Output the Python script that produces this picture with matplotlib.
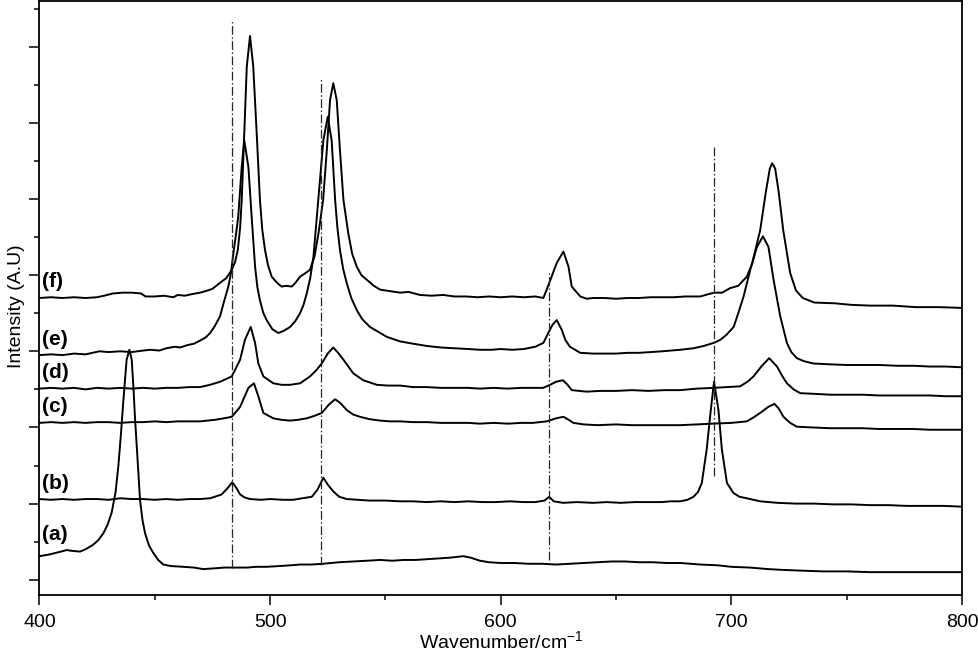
import numpy as np
import matplotlib
matplotlib.use('Agg')
import matplotlib.pyplot as plt
from matplotlib.ticker import MultipleLocator, NullFormatter

plt.rcParams['font.family'] = ['Liberation Sans', 'DejaVu Sans']
plt.rcParams['mathtext.fontset'] = 'custom'
plt.rcParams['mathtext.rm'] = 'Liberation Sans'

# spectrum (a)
wn_a = [400, 404, 408, 411.8, 414, 417.6, 420, 423.3, 425.5, 427.7, 429.5, 431.3, 433, 434.2,
        435.3, 436.4, 437.8, 439, 440, 440.8, 441.4, 442.5, 443.6, 444.7, 445.8, 447.5, 449.4,
        451.5, 453.7, 457, 462.4, 467, 471, 476, 480, 484.1, 490, 494, 498.5, 504, 509, 513,
        518, 523, 530, 536, 542, 547.7, 553, 558, 563, 568, 573, 578, 581, 583.7, 587, 591,
        595, 600, 606, 612, 618, 624, 630, 636, 642, 648, 654, 660, 666, 672, 678, 686.5, 694,
        700, 708, 716, 722, 730, 740, 750, 760, 770, 780, 790, 800]
int_a = [0.31, 0.33, 0.36, 0.39, 0.38, 0.37, 0.40, 0.46, 0.52, 0.61, 0.72, 0.88, 1.15, 1.49,
         1.90, 2.36, 2.89, 3.02, 2.89, 2.50, 2.14, 1.60, 1.05, 0.78, 0.61, 0.45, 0.35,
         0.26, 0.20, 0.18, 0.17, 0.16, 0.14, 0.15, 0.16, 0.16, 0.16, 0.17, 0.17, 0.18, 0.19, 0.20,
         0.20, 0.21, 0.23, 0.24, 0.25, 0.26, 0.25, 0.26, 0.26, 0.27, 0.28, 0.29, 0.30, 0.31, 0.29, 0.25,
         0.23, 0.22, 0.22, 0.21, 0.21, 0.20, 0.21, 0.22, 0.23, 0.24, 0.24, 0.23, 0.23, 0.22, 0.22, 0.20, 0.19,
         0.17, 0.16, 0.14, 0.13, 0.12, 0.11, 0.11, 0.10, 0.10, 0.10, 0.10, 0.10]

# spectrum (b)
wn_b = [400, 405, 410, 415, 420, 425, 430, 435, 440, 445, 450, 455, 460, 465, 469.6, 474, 479,
        481.5, 483.6, 485.5, 487, 489, 491.3, 496, 500, 505.7, 510, 514, 518.1, 520.5, 523.1,
        525, 527.4, 530, 533.2, 538, 543, 550, 556.4, 562, 568, 574, 580, 586, 592, 598, 604,
        610, 615, 619, 621, 623, 627, 633, 640, 646, 652, 658, 664, 670, 673.6, 677.8, 681,
        683.6, 685.5, 687.2, 689.3, 691.1, 692.5, 694.4, 695.9, 698.1, 700.9, 703.5, 706.7,
        712.5, 720, 728, 736, 744, 752, 760, 768, 776, 784, 792, 800]
int_b = [1.06, 1.05, 1.06, 1.05, 1.06, 1.06, 1.05, 1.07, 1.06, 1.06, 1.05, 1.06, 1.05, 1.06, 1.06, 1.07, 1.12,
         1.20, 1.28, 1.20, 1.12, 1.08, 1.06, 1.05, 1.06, 1.05, 1.05, 1.07, 1.09, 1.18, 1.34,
         1.25, 1.16, 1.09, 1.06, 1.05, 1.04, 1.04, 1.03, 1.03, 1.02, 1.03, 1.02, 1.03, 1.02, 1.02, 1.03,
         1.02, 1.02, 1.04, 1.09, 1.03, 1.01, 1.02, 1.01, 1.02, 1.01, 1.02, 1.02, 1.02, 1.03, 1.03, 1.05,
         1.09, 1.15, 1.27, 1.71, 2.23, 2.60, 2.23, 1.71, 1.27, 1.14, 1.09, 1.07,
         1.03, 1.01, 1.00, 1.00, 0.99, 0.99, 0.98, 0.98, 0.97, 0.97, 0.97, 0.96]

# spectrum (c)
wn_c = [400, 405, 410, 415, 420, 425, 430, 435, 440, 445, 450, 455, 460, 465, 469.6, 476, 480,
        483.4, 487, 490.6, 493, 494.9, 497.1, 501.4, 505, 508.7, 512, 515.9, 519, 522.4, 525.5,
        528.2, 530.5, 533.2, 536, 539, 543, 547.7, 552, 556.4, 562, 568, 574, 580, 586, 591, 597,
        603, 609, 614, 620, 624, 627.2, 629.5, 631.5, 636, 642, 650, 657, 664, 671, 677.8, 685,
        692, 700, 706.7, 709.5, 712.5, 716, 718.7, 720.5, 722.6, 725.5, 728.4, 735, 743, 750.1,
        757, 764, 771, 779, 786, 793, 800]
int_c = [2.06, 2.07, 2.06, 2.07, 2.06, 2.07, 2.07, 2.06, 2.07, 2.07, 2.08, 2.07, 2.08, 2.08, 2.08, 2.10, 2.12,
         2.14, 2.27, 2.52, 2.58, 2.41, 2.19, 2.12, 2.10, 2.09, 2.10, 2.12, 2.15, 2.19, 2.30,
         2.37, 2.32, 2.23, 2.17, 2.14, 2.11, 2.09, 2.08, 2.08, 2.07, 2.07, 2.06, 2.06, 2.06, 2.05, 2.06,
         2.05, 2.06, 2.06, 2.08, 2.12, 2.14, 2.10, 2.06, 2.04, 2.03, 2.04, 2.03, 2.03, 2.03, 2.03, 2.04,
         2.05, 2.06, 2.08, 2.13, 2.19, 2.27, 2.31, 2.25, 2.14, 2.06, 2.01, 2.00, 1.99, 1.99,
         1.99, 1.98, 1.98, 1.98, 1.97, 1.97, 1.97]

# spectrum (d)
wn_d = [400, 405, 410, 415, 420, 425, 430, 435, 440, 445, 450, 455, 460, 465, 469.6, 474, 478.3,
        483.4, 487, 489.1, 491.6, 493.5, 494.9, 497.1, 501.4, 505, 508.7, 513, 517.3, 520, 522.4,
        525, 527.4, 529.5, 531.8, 536.1, 540.4, 546.3, 551, 556.4, 562, 568, 574, 580, 586, 591,
        597, 603, 609, 614, 618.4, 621.4, 624, 627, 629, 630.8, 637.3, 643, 650, 657, 664, 671,
        677.8, 685, 692.3, 698, 703.8, 707, 709.6, 713, 716.4, 719.8, 722, 724.1, 727, 729.9,
        737, 743, 750.1, 757, 764, 771, 779, 786, 793, 800]
int_d = [2.51, 2.52, 2.51, 2.52, 2.50, 2.52, 2.51, 2.52, 2.51, 2.52, 2.51, 2.52, 2.52, 2.53, 2.53, 2.56, 2.60,
         2.67, 2.89, 3.15, 3.32, 3.11, 2.84, 2.67, 2.58, 2.56, 2.56, 2.58, 2.67, 2.75, 2.84,
         2.97, 3.05, 2.98, 2.89, 2.71, 2.62, 2.56, 2.55, 2.55, 2.53, 2.53, 2.52, 2.52, 2.52, 2.51,
         2.52, 2.51, 2.52, 2.52, 2.52, 2.56, 2.60, 2.62, 2.56, 2.49, 2.47, 2.48, 2.48, 2.49, 2.48, 2.49,
         2.49, 2.51, 2.52, 2.53, 2.54, 2.60, 2.67, 2.80, 2.91, 2.80, 2.68, 2.58, 2.50, 2.45,
         2.44, 2.43, 2.43, 2.43, 2.42, 2.42, 2.42, 2.42, 2.41, 2.41]

# spectrum (e)
wn_e = [400, 405, 410, 415, 420, 426, 430, 435, 440, 445, 448, 452, 455, 458.8, 461, 464, 467,
        469.6, 472, 474, 476, 478.3, 480, 481.9, 483, 484.1, 485.2, 486.2, 487.7, 488.8, 490.6,
        492, 493.5, 494.5, 495.6, 497, 498.5, 501, 503.6, 506, 508.7, 511, 513, 514.5, 515.9,
        517.4, 518.8, 520.9, 523.1, 525, 526.7, 528.2, 529.2, 530.3, 531.7, 533.2, 535.2, 537.6,
        540, 543.3, 550.6, 556.4, 562, 568, 574, 580, 586, 591, 596, 600,
        605, 610, 615, 618.5, 620.6, 622.5, 624.3, 626.5, 628, 630, 634.5, 640, 645, 650, 655,
        660, 665, 670, 677.8, 683.6, 688, 692.3, 695.2, 698, 701, 703, 705.3, 708.2, 711.1,
        713.7, 716.1, 718.3, 721.2, 724.1, 726, 728.4, 731.5, 735.6, 742, 750.1, 757, 764.5,
        772, 779, 786, 793, 800]
int_e = [2.95, 2.96, 2.95, 2.97, 2.96, 3.00, 2.99, 3.00, 2.99, 3.01, 3.02, 3.01, 3.04, 3.06, 3.05, 3.08, 3.10,
         3.14, 3.18, 3.24, 3.33, 3.46, 3.65, 3.85, 4.02, 4.29, 4.53, 4.77, 5.42, 5.77, 5.42,
         4.77, 4.11, 3.84, 3.67, 3.51, 3.41, 3.29, 3.24, 3.27, 3.32, 3.40, 3.50, 3.61, 3.76,
         3.96, 4.24, 4.99, 5.77, 6.08, 5.77, 4.99, 4.62, 4.33, 4.08, 3.90, 3.70, 3.54,
         3.42, 3.32, 3.19, 3.13, 3.10, 3.07, 3.05, 3.04, 3.03, 3.02, 3.02, 3.03,
         3.02, 3.03, 3.06, 3.11, 3.24, 3.35, 3.41, 3.28, 3.15, 3.06, 2.98, 2.97, 2.97, 2.97, 2.98,
         2.98, 2.99, 3.00, 3.02, 3.04, 3.07, 3.11, 3.15, 3.22, 3.32, 3.50, 3.72, 4.07, 4.37,
         4.51, 4.37, 3.94, 3.46, 3.11, 2.99, 2.91, 2.87, 2.84, 2.83, 2.82, 2.82, 2.82,
         2.81, 2.81, 2.80, 2.80, 2.79]

# spectrum (f)
wn_f = [400, 405, 410, 415, 420, 425, 428, 432, 436, 440, 444, 446, 450, 454, 458, 460, 463,
        466, 469.6, 472, 475, 478.3, 481, 483.4, 484.8, 486, 487, 487.7, 488.8, 489.9, 491.3,
        492.7, 494.2, 495.6, 496.6, 497.8, 499.1, 500.7, 503, 505, 507, 509.4, 511, 513, 515,
        517.3, 519.3, 521, 523, 524.6, 526, 527.4, 528.9, 530.3, 531.8, 533.9, 535.6, 537.6,
        539.6, 541.9, 545, 547.7, 552, 556.4, 560, 565, 570,
        575, 580, 585, 590, 595, 600, 605, 610, 615, 618.5, 620.7, 624.3, 627.2, 629.4, 630.8,
        634.5, 637.3, 640, 645, 650, 655, 660, 665, 670, 675, 680, 686.5, 690, 692.6, 696,
        699.5, 703, 706.7, 709, 712.5, 715, 716.7, 717.7, 719, 720.5, 722.5, 725.5, 728, 731,
        736, 745, 752, 760, 770, 780, 790, 800]
int_f = [3.70, 3.71, 3.70, 3.71, 3.70, 3.71, 3.73, 3.76, 3.77, 3.77, 3.76, 3.72, 3.72, 3.73, 3.71, 3.74, 3.73,
         3.75, 3.77, 3.79, 3.82, 3.90, 3.96, 4.07, 4.17, 4.33, 4.62, 4.99, 5.86, 6.74, 7.14,
         6.74, 5.86, 4.99, 4.60, 4.33, 4.13, 3.98, 3.90, 3.85, 3.86, 3.85, 3.90, 3.98, 4.02,
         4.07, 4.25, 4.55, 4.99, 5.64, 6.30, 6.52, 6.30, 5.64, 4.99, 4.55, 4.28, 4.11,
         4.00, 3.94, 3.86, 3.81, 3.79, 3.77, 3.78, 3.74, 3.73,
         3.74, 3.72, 3.72, 3.71, 3.72, 3.71, 3.72, 3.71, 3.72, 3.70, 3.87, 4.16, 4.31, 4.11, 3.85,
         3.72, 3.69, 3.70, 3.70, 3.69, 3.70, 3.70, 3.71, 3.71, 3.71, 3.72, 3.72, 3.75, 3.77, 3.77,
         3.83, 3.86, 3.98, 4.15, 4.59, 5.10, 5.40, 5.47, 5.40, 5.10, 4.59, 4.03, 3.80, 3.70,
         3.64, 3.63, 3.61, 3.60, 3.60, 3.58, 3.58, 3.57]

spectra = [(wn_a, int_a), (wn_b, int_b), (wn_c, int_c), (wn_d, int_d), (wn_e, int_e), (wn_f, int_f)]
names = ['(a)', '(b)', '(c)', '(d)', '(e)', '(f)']
label_y = [0.59, 1.27, 2.28, 2.72, 3.16, 3.92]

# dash-dot reference lines: position, bottom, top
ref_x = [483.5, 522.0, 621.0, 692.6]
ref_lo = [0.16, 0.20, 0.26, 1.36]
ref_hi = [7.35, 6.57, 4.05, 5.71]

fig = plt.figure(figsize=(9.79, 6.72), dpi=100)
ax = fig.add_axes([0.0403, 0.1146, 0.9423, 0.8839])

for wn, inten in spectra:
    ax.plot(wn, inten, color='black', lw=1.4, solid_joinstyle='round')

for xv, lo, hi in zip(ref_x, ref_lo, ref_hi):
    ax.plot([xv, xv], [lo, hi], color='0.15', lw=0.9, linestyle=(0, (7, 2, 1.2, 2)))

for nm, yy in zip(names, label_y):
    ax.text(401, yy, nm, fontsize=15, fontweight='bold', va='center', ha='left')

ax.set_xlim(400, 800)
ax.set_ylim(-0.2, 7.6)
ax.xaxis.set_major_locator(MultipleLocator(100))
ax.xaxis.set_minor_locator(MultipleLocator(50))
ax.yaxis.set_major_locator(MultipleLocator(1))
ax.yaxis.set_minor_locator(MultipleLocator(0.5))
ax.yaxis.set_major_formatter(NullFormatter())
ax.tick_params(which='major', direction='out', length=7, width=1.1, labelsize=14, pad=7)
ax.tick_params(which='minor', direction='out', length=3.5, width=1.1)
for sp in ax.spines.values():
    sp.set_linewidth(1.3)

ax.set_xlabel('Wavenumber/cm$^{\\mathregular{-1}}$', fontsize=14, labelpad=-1)
ax.set_ylabel('Intensity (A.U)', fontsize=14)
ax.yaxis.set_label_coords(-0.016, 0.487)

fig.savefig('out.png', dpi=100)
